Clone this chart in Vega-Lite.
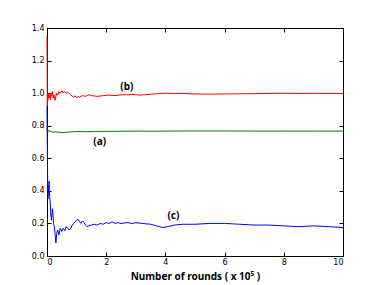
{
  "$schema": "https://vega.github.io/schema/vega-lite/v6.json",
  "width": 296,
  "height": 228,
  "autosize": {"type": "none"},
  "padding": {"left": 47, "top": 28, "right": 39, "bottom": 29},
  "background": "white",
  "config": {
    "view": {"stroke": "black", "strokeWidth": 1},
    "axis": {"grid": false, "domain": false, "tickColor": "black", "tickSize": -4, "labelFont": "DejaVu Sans", "labelFontSize": 8, "labelColor": "black", "titleFont": "Noto Sans", "titleFontWeight": "bold", "titleFontSize": 10, "titleColor": "black"}
  },
  "datasets": {
    "lines": [
      {"s": "b", "x": 0, "y": 1.35}, {"s": "b", "x": 0.005, "y": 1.2}, {"s": "b", "x": 0.01, "y": 0.92}, {"s": "b", "x": 0.02, "y": 1.0}, {"s": "b", "x": 0.03, "y": 0.96}, {"s": "b", "x": 0.05, "y": 1.0}, {"s": "b", "x": 0.07, "y": 0.97}, {"s": "b", "x": 0.09, "y": 0.99}, {"s": "b", "x": 0.11, "y": 0.96}, {"s": "b", "x": 0.13, "y": 1.0}, {"s": "b", "x": 0.15, "y": 0.98}, {"s": "b", "x": 0.18, "y": 1.01}, {"s": "b", "x": 0.21, "y": 0.97}, {"s": "b", "x": 0.24, "y": 0.99}, {"s": "b", "x": 0.27, "y": 0.955}, {"s": "b", "x": 0.3, "y": 0.98}, {"s": "b", "x": 0.33, "y": 1.0}, {"s": "b", "x": 0.37, "y": 0.99}, {"s": "b", "x": 0.4, "y": 1.01}, {"s": "b", "x": 0.45, "y": 1.0}, {"s": "b", "x": 0.5, "y": 1.015}, {"s": "b", "x": 0.55, "y": 1.0}, {"s": "b", "x": 0.6, "y": 1.01}, {"s": "b", "x": 0.65, "y": 1.0}, {"s": "b", "x": 0.7, "y": 1.005}, {"s": "b", "x": 0.8, "y": 0.99}, {"s": "b", "x": 0.9, "y": 0.975}, {"s": "b", "x": 0.95, "y": 0.985}, {"s": "b", "x": 1.0, "y": 0.97}, {"s": "b", "x": 1.05, "y": 0.98}, {"s": "b", "x": 1.1, "y": 0.975}, {"s": "b", "x": 1.2, "y": 0.985}, {"s": "b", "x": 1.3, "y": 0.98}, {"s": "b", "x": 1.4, "y": 0.99}, {"s": "b", "x": 1.5, "y": 0.985}, {"s": "b", "x": 1.7, "y": 0.98}, {"s": "b", "x": 1.9, "y": 0.985}, {"s": "b", "x": 2.1, "y": 0.988}, {"s": "b", "x": 2.3, "y": 0.985}, {"s": "b", "x": 2.5, "y": 0.99}, {"s": "b", "x": 2.7, "y": 0.99}, {"s": "b", "x": 2.9, "y": 0.992}, {"s": "b", "x": 3.1, "y": 0.988}, {"s": "b", "x": 3.3, "y": 0.99}, {"s": "b", "x": 3.5, "y": 0.993}, {"s": "b", "x": 3.8, "y": 0.998}, {"s": "b", "x": 4.0, "y": 1.0}, {"s": "b", "x": 4.3, "y": 0.997}, {"s": "b", "x": 4.6, "y": 0.998}, {"s": "b", "x": 5.0, "y": 0.995}, {"s": "b", "x": 5.5, "y": 0.994}, {"s": "b", "x": 6.0, "y": 0.995}, {"s": "b", "x": 6.5, "y": 0.996}, {"s": "b", "x": 7.0, "y": 0.997}, {"s": "b", "x": 7.5, "y": 0.998}, {"s": "b", "x": 8.0, "y": 0.999}, {"s": "b", "x": 8.5, "y": 0.998}, {"s": "b", "x": 9.0, "y": 0.999}, {"s": "b", "x": 9.5, "y": 0.998}, {"s": "b", "x": 10, "y": 0.998},
      {"s": "a", "x": 0, "y": 0.79}, {"s": "a", "x": 0.01, "y": 0.77}, {"s": "a", "x": 0.03, "y": 0.775}, {"s": "a", "x": 0.06, "y": 0.765}, {"s": "a", "x": 0.1, "y": 0.768}, {"s": "a", "x": 0.2, "y": 0.76}, {"s": "a", "x": 0.3, "y": 0.762}, {"s": "a", "x": 0.5, "y": 0.758}, {"s": "a", "x": 0.7, "y": 0.76}, {"s": "a", "x": 1.0, "y": 0.765}, {"s": "a", "x": 1.3, "y": 0.763}, {"s": "a", "x": 1.6, "y": 0.765}, {"s": "a", "x": 2.0, "y": 0.765}, {"s": "a", "x": 2.5, "y": 0.766}, {"s": "a", "x": 3.0, "y": 0.767}, {"s": "a", "x": 3.5, "y": 0.766}, {"s": "a", "x": 4.0, "y": 0.767}, {"s": "a", "x": 5.0, "y": 0.768}, {"s": "a", "x": 6.0, "y": 0.768}, {"s": "a", "x": 7.0, "y": 0.767}, {"s": "a", "x": 8.0, "y": 0.767}, {"s": "a", "x": 9.0, "y": 0.767}, {"s": "a", "x": 10, "y": 0.767},
      {"s": "c", "x": 0, "y": 0.92}, {"s": "c", "x": 0.01, "y": 0.7}, {"s": "c", "x": 0.02, "y": 0.5}, {"s": "c", "x": 0.03, "y": 0.35}, {"s": "c", "x": 0.05, "y": 0.4}, {"s": "c", "x": 0.07, "y": 0.46}, {"s": "c", "x": 0.09, "y": 0.36}, {"s": "c", "x": 0.11, "y": 0.33}, {"s": "c", "x": 0.13, "y": 0.25}, {"s": "c", "x": 0.15, "y": 0.22}, {"s": "c", "x": 0.18, "y": 0.29}, {"s": "c", "x": 0.2, "y": 0.27}, {"s": "c", "x": 0.22, "y": 0.2}, {"s": "c", "x": 0.25, "y": 0.18}, {"s": "c", "x": 0.28, "y": 0.12}, {"s": "c", "x": 0.3, "y": 0.08}, {"s": "c", "x": 0.33, "y": 0.14}, {"s": "c", "x": 0.36, "y": 0.16}, {"s": "c", "x": 0.4, "y": 0.13}, {"s": "c", "x": 0.45, "y": 0.17}, {"s": "c", "x": 0.5, "y": 0.15}, {"s": "c", "x": 0.55, "y": 0.17}, {"s": "c", "x": 0.6, "y": 0.155}, {"s": "c", "x": 0.65, "y": 0.18}, {"s": "c", "x": 0.7, "y": 0.17}, {"s": "c", "x": 0.75, "y": 0.16}, {"s": "c", "x": 0.8, "y": 0.17}, {"s": "c", "x": 0.85, "y": 0.19}, {"s": "c", "x": 0.9, "y": 0.2}, {"s": "c", "x": 0.95, "y": 0.21}, {"s": "c", "x": 1.0, "y": 0.22}, {"s": "c", "x": 1.05, "y": 0.225}, {"s": "c", "x": 1.1, "y": 0.21}, {"s": "c", "x": 1.15, "y": 0.2}, {"s": "c", "x": 1.2, "y": 0.215}, {"s": "c", "x": 1.25, "y": 0.205}, {"s": "c", "x": 1.3, "y": 0.19}, {"s": "c", "x": 1.35, "y": 0.18}, {"s": "c", "x": 1.4, "y": 0.185}, {"s": "c", "x": 1.5, "y": 0.19}, {"s": "c", "x": 1.6, "y": 0.195}, {"s": "c", "x": 1.7, "y": 0.19}, {"s": "c", "x": 1.8, "y": 0.2}, {"s": "c", "x": 1.9, "y": 0.195}, {"s": "c", "x": 2.0, "y": 0.205}, {"s": "c", "x": 2.1, "y": 0.2}, {"s": "c", "x": 2.2, "y": 0.21}, {"s": "c", "x": 2.3, "y": 0.2}, {"s": "c", "x": 2.4, "y": 0.205}, {"s": "c", "x": 2.5, "y": 0.2}, {"s": "c", "x": 2.7, "y": 0.205}, {"s": "c", "x": 2.9, "y": 0.2}, {"s": "c", "x": 3.0, "y": 0.205}, {"s": "c", "x": 3.2, "y": 0.2}, {"s": "c", "x": 3.5, "y": 0.195}, {"s": "c", "x": 3.7, "y": 0.185}, {"s": "c", "x": 3.9, "y": 0.175}, {"s": "c", "x": 4.1, "y": 0.18}, {"s": "c", "x": 4.3, "y": 0.19}, {"s": "c", "x": 4.6, "y": 0.195}, {"s": "c", "x": 5.0, "y": 0.195}, {"s": "c", "x": 5.5, "y": 0.2}, {"s": "c", "x": 6.0, "y": 0.2}, {"s": "c", "x": 6.5, "y": 0.195}, {"s": "c", "x": 7.0, "y": 0.19}, {"s": "c", "x": 7.5, "y": 0.19}, {"s": "c", "x": 8.0, "y": 0.185}, {"s": "c", "x": 8.5, "y": 0.18}, {"s": "c", "x": 9.0, "y": 0.185}, {"s": "c", "x": 9.5, "y": 0.18}, {"s": "c", "x": 10, "y": 0.175}
    ],
    "labels": [
      {"t": "(b)", "x": 2.7, "y": 1.04},
      {"t": "(a)", "x": 1.78, "y": 0.70},
      {"t": "(c)", "x": 4.27, "y": 0.245}
    ]
  },
  "layer": [
    {
      "data": {"name": "lines"},
      "mark": {"type": "line", "strokeWidth": 1, "clip": false},
      "encoding": {
        "x": {"field": "x", "type": "quantitative", "scale": {"domain": [0, 10], "nice": false, "zero": false}, "axis": {"title": "Number of rounds  ( x 10⁵ )", "values": [0, 2, 4, 6, 8, 10], "labelPadding": 6, "titlePadding": 5}},
        "y": {"field": "y", "type": "quantitative", "scale": {"domain": [0, 1.4], "nice": false}, "axis": {"title": null, "values": [0, 0.2, 0.4, 0.6, 0.8, 1.0, 1.2, 1.4], "format": ".1f", "labelPadding": 7}},
        "color": {"field": "s", "type": "nominal", "scale": {"domain": ["a", "b", "c"], "range": ["#008000", "#ff0000", "#0000ff"]}, "legend": null}
      }
    },
    {
      "data": {"name": "labels"},
      "mark": {"type": "text", "font": "Noto Sans", "fontWeight": "bold", "fontSize": 10, "color": "black"},
      "encoding": {
        "x": {"field": "x", "type": "quantitative", "axis": {"orient": "top", "title": null, "labels": false, "values": [0, 2, 4, 6, 8, 10]}},
        "y": {"field": "y", "type": "quantitative", "axis": {"orient": "right", "title": null, "labels": false, "values": [0, 0.2, 0.4, 0.6, 0.8, 1.0, 1.2, 1.4]}},
        "text": {"field": "t", "type": "nominal"}
      }
    }
  ],
  "resolve": {"axis": {"x": "independent", "y": "independent"}}
}
